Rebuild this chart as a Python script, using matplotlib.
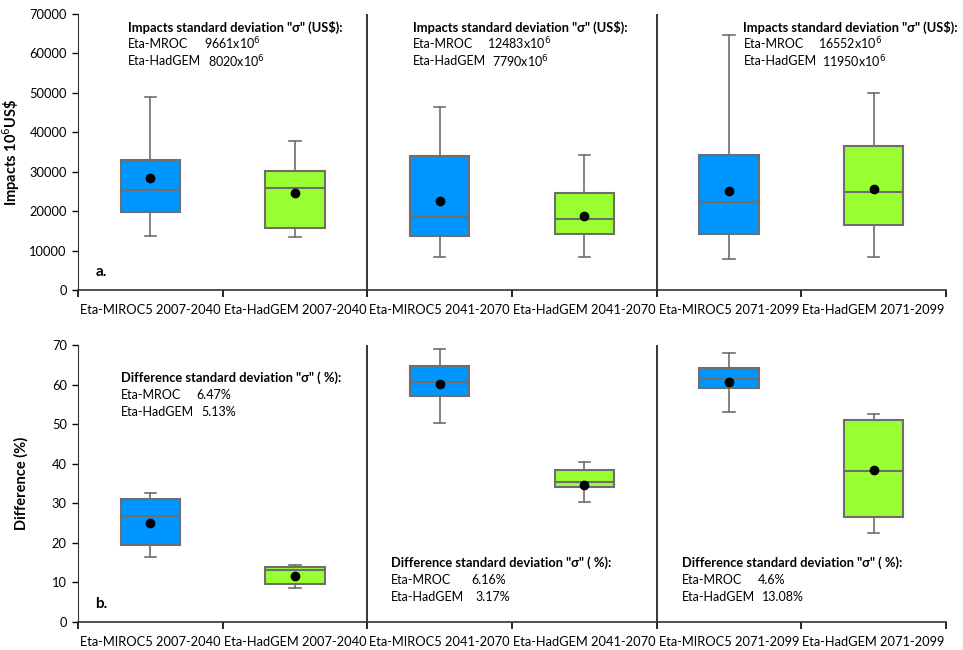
import matplotlib
matplotlib.use("Agg")
import matplotlib.pyplot as plt
from matplotlib.transforms import blended_transform_factory

plt.rcParams["font.family"] = ["Lato", "DejaVu Sans"]

categories = [
    "Eta-MIROC5 2007-2040", "Eta-HadGEM 2007-2040",
    "Eta-MIROC5 2041-2070", "Eta-HadGEM 2041-2070",
    "Eta-MIROC5 2071-2099", "Eta-HadGEM 2071-2099",
]

# panel a: impacts (10^6 US$)
impact_whislo = [13700, 13400, 8450, 8450, 7900, 8450]
impact_q1 = [19900, 15700, 13700, 14200, 14300, 16600]
impact_med = [25300, 25900, 18600, 18000, 22400, 24800]
impact_q3 = [33100, 30300, 34100, 24700, 34200, 36600]
impact_whishi = [48900, 37800, 46300, 34300, 64600, 50000]
impact_mean = [28300, 24500, 22500, 18800, 25100, 25700]

# panel b: difference (%)
diff_whislo = [16.4, 8.5, 50.3, 30.3, 53.2, 22.4]
diff_q1 = [19.5, 9.6, 57.2, 34.1, 59.2, 26.5]
diff_med = [26.8, 13.2, 60.7, 35.4, 61.3, 38.1]
diff_q3 = [31.0, 13.8, 64.7, 38.3, 64.2, 51.1]
diff_whishi = [32.6, 14.5, 69.0, 40.4, 68.0, 52.5]
diff_mean = [25.1, 11.7, 60.2, 34.6, 60.6, 38.5]

impact_sigma = [("9661x10$^6$", "8020x10$^6$"),
                ("12483x10$^6$", "7790x10$^6$"),
                ("16552x10$^6$", "11950x10$^6$")]
diff_sigma = [("6.47%", "5.13%"), ("6.16%", "3.17%"), ("4.6%", "13.08%")]

box_colors = ["#0096FF", "#99FF33"] * 3
edge = "#6E6E6E"


def draw_boxes(ax, whislo, q1, med, q3, whishi, mean):
    stats = []
    for i in range(len(categories)):
        stats.append(dict(whislo=whislo[i], q1=q1[i], med=med[i], q3=q3[i],
                          whishi=whishi[i], mean=mean[i], fliers=[]))
    res = ax.bxp(stats, positions=range(len(categories)), widths=0.41,
                 patch_artist=True, showmeans=True, showfliers=False,
                 boxprops=dict(edgecolor=edge, linewidth=1.5),
                 medianprops=dict(color=edge, linewidth=1.5),
                 whiskerprops=dict(color=edge, linewidth=1.2),
                 capprops=dict(color=edge, linewidth=1.2),
                 meanprops=dict(marker="o", markerfacecolor="black",
                                markeredgecolor="black", markersize=6))
    for patch, c in zip(res["boxes"], box_colors):
        patch.set_facecolor(c)
    for cap in res["caps"]:
        x = cap.get_xdata()
        mid = (x[0] + x[1]) / 2
        cap.set_xdata([mid - 0.04, mid + 0.04])


def style_axis(ax, ymax, ystep):
    ax.set_xlim(-0.5, len(categories) - 0.5)
    ax.set_ylim(0, ymax)
    ax.set_yticks(range(0, ymax + 1, ystep))
    ax.set_xticks([i - 0.5 for i in range(len(categories) + 1)])
    ax.set_xticklabels([])
    ax.set_xticks(range(len(categories)), minor=True)
    ax.set_xticklabels(categories, minor=True, fontsize=9.3)
    ax.tick_params(axis="x", which="minor", length=0, pad=10)
    ax.tick_params(axis="x", which="major", length=5, width=1.2, direction="out")
    ax.tick_params(axis="y", length=4, width=1, labelsize=9.3, pad=4)
    for side in ("top", "right"):
        ax.spines[side].set_visible(False)
    ax.spines["left"].set_color("#333333")
    ax.spines["bottom"].set_color("#333333")
    ax.spines["bottom"].set_linewidth(1.2)
    for xb in (1.5, 3.5):
        ax.axvline(xb, color="black", linewidth=1.1)


def sigma_block(ax, x_head, x_val, y_top, heading, values):
    tr = blended_transform_factory(ax.transData, ax.transAxes)
    ax.text(x_head, y_top, heading, transform=tr, fontsize=9.3,
            fontweight="bold", va="center", ha="left")
    for k, (name, val) in enumerate(zip(["Eta-MROC", "Eta-HadGEM"], values)):
        y = y_top - 0.062 * (k + 1)
        ax.text(x_head, y, name, transform=tr, fontsize=9, va="center")
        ax.text(x_val + 0.03 * k, y, val, transform=tr, fontsize=9,
                va="center")


fig = plt.figure(figsize=(9.63, 6.5), dpi=100)
ax_a = fig.add_axes([0.081, 0.5538, 0.9013, 0.4246])
ax_b = fig.add_axes([0.081, 0.0431, 0.9013, 0.426])

draw_boxes(ax_a, impact_whislo, impact_q1, impact_med, impact_q3,
           impact_whishi, impact_mean)
style_axis(ax_a, 70000, 10000)
ax_a.set_ylabel("Impacts 10$^6$US\\$", fontsize=10.5, fontweight="bold")
ax_a.yaxis.set_label_coords(-0.064, 0.5)

draw_boxes(ax_b, diff_whislo, diff_q1, diff_med, diff_q3, diff_whishi,
           diff_mean)
style_axis(ax_b, 70, 10)
ax_b.set_ylabel("Difference (%)", fontsize=10.5, fontweight="bold")
ax_b.yaxis.set_label_coords(-0.057, 0.5)

head_a = 'Impacts standard deviation "\u03c3" (US$):'
for (xh, xv), vals in zip([(-0.155, 0.369), (1.815, 2.33), (4.10, 4.615)],
                          impact_sigma):
    sigma_block(ax_a, xh, xv, 0.953, head_a, vals)

head_b = 'Difference standard deviation "\u03c3" ( %):'
sigma_block(ax_b, -0.203, 0.321, 0.881, head_b, diff_sigma[0])
sigma_block(ax_b, 1.666, 2.217, 0.213, head_b, diff_sigma[1])
sigma_block(ax_b, 3.672, 4.197, 0.213, head_b, diff_sigma[2])

ax_a.text(0.02, 0.065, "a.", transform=ax_a.transAxes, fontsize=11,
          fontweight="bold", va="center")
ax_b.text(0.02, 0.065, "b.", transform=ax_b.transAxes, fontsize=11,
          fontweight="bold", va="center")

fig.savefig("out.png", dpi=100)
